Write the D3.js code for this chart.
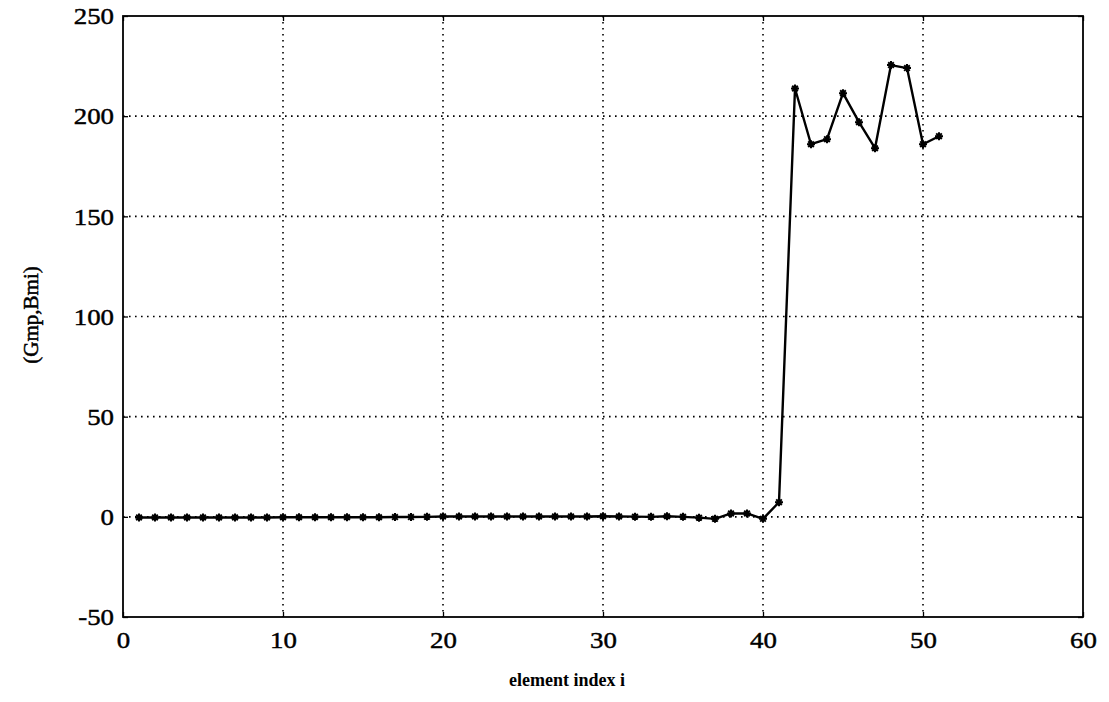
<!DOCTYPE html>
<html>
<head>
<meta charset="utf-8">
<script src="https://cdn.jsdelivr.net/npm/d3@7"></script>
<style>
  html, body { margin: 0; padding: 0; background: #fff; }
</style>
</head>
<body>
<svg id="chart" width="1109" height="702"></svg>
<script>
// element index i
const indices = d3.range(1, 52);
// (Gmp,Bmi) per element
const values = [
  -0.3, -0.3, -0.3, -0.3, -0.3, -0.3, -0.3, -0.3, -0.3, -0.2,
  -0.2, -0.2, -0.2, -0.2, -0.2, -0.2, -0.1, -0.1, 0.0, 0.2,
  0.2, 0.2, 0.2, 0.2, 0.2, 0.2, 0.2, 0.2, 0.2, 0.3,
  0.2, 0.1, 0.0, 0.3, 0.0, -0.4, -1.0, 1.7, 1.7, -1.0,
  7.3, 213.8, 186.0, 188.5, 211.5, 197.0, 184.0, 225.5, 224.0, 186.0,
  190.0
];
const xTicks = [0, 10, 20, 30, 40, 50, 60];
const yTicks = [-50, 0, 50, 100, 150, 200, 250];
const xLabel = "element index i";
const yLabel = "(Gmp,Bmi)";

const serif = "'Liberation Serif', 'DejaVu Serif', serif";
const svg = d3.select("#chart");
const plotL = 123, plotR = 1083, plotT = 16, plotB = 617;

const x = d3.scaleLinear().domain([0, 60]).range([plotL, plotR]);
const y = d3.scaleLinear().domain([-50, 250]).range([plotB, plotT]);

// dotted grid lines at interior ticks
const grid = svg.append("g")
  .attr("stroke", "#000")
  .attr("stroke-width", 1.6)
  .attr("stroke-dasharray", "1.6 4.4");
grid.selectAll("line.gx")
  .data(xTicks.filter(t => t > 0 && t < 60))
  .join("line")
  .attr("class", "gx")
  .attr("x1", d => x(d)).attr("x2", d => x(d))
  .attr("y1", plotT).attr("y2", plotB);
grid.selectAll("line.gy")
  .data(yTicks.filter(t => t > -50 && t < 250))
  .join("line")
  .attr("class", "gy")
  .attr("x1", plotL).attr("x2", plotR)
  .attr("y1", d => y(d)).attr("y2", d => y(d));

// axes with inward ticks, on all four sides
const tickLen = 5;
const fmt = d => String(d);
const axBottom = d3.axisBottom(x).tickValues(xTicks).tickFormat(fmt).tickSizeInner(-tickLen).tickSizeOuter(0).tickPadding(14);
const axLeft = d3.axisLeft(y).tickValues(yTicks).tickFormat(fmt).tickSizeInner(-tickLen).tickSizeOuter(0).tickPadding(8);
const axTop = d3.axisTop(x).tickValues(xTicks).tickSizeInner(-tickLen).tickSizeOuter(0).tickFormat("");
const axRight = d3.axisRight(y).tickValues(yTicks).tickSizeInner(-tickLen).tickSizeOuter(0).tickFormat("");

function styleAxis(g) {
  g.attr("font-family", null).attr("font-size", null);
  g.select(".domain").remove();
  g.selectAll(".tick line").attr("stroke", "#000").attr("stroke-width", 1.3);
  g.selectAll(".tick text")
    .style("font-family", serif)
    .style("font-size", "24px")
    .attr("transform", "scale(1.12,1)")
    .attr("fill", "#000")
    .attr("stroke", "#000").attr("stroke-width", 0.45);
}
svg.append("g").attr("transform", `translate(0,${plotB})`).call(axBottom).call(styleAxis);
svg.append("g").attr("transform", `translate(${plotL},0)`).call(axLeft).call(styleAxis);
svg.append("g").attr("transform", `translate(0,${plotT})`).call(axTop).call(styleAxis);
svg.append("g").attr("transform", `translate(${plotR},0)`).call(axRight).call(styleAxis);

// frame
svg.append("rect")
  .attr("x", plotL).attr("y", plotT)
  .attr("width", plotR - plotL).attr("height", plotB - plotT)
  .attr("fill", "none").attr("stroke", "#000").attr("stroke-width", 1.8);

// data line
const pts = indices.map((d, i) => [d, values[i]]);
svg.append("path")
  .datum(pts)
  .attr("fill", "none")
  .attr("stroke", "#000")
  .attr("stroke-width", 2.4)
  .attr("stroke-linejoin", "round")
  .attr("d", d3.line().x(d => x(d[0])).y(d => y(d[1])));

// asterisk markers
const m = 4;
const starPath = [
  `M${-m},0L${m},0`,
  `M0,${-m}L0,${m}`,
  `M${-m*0.7},${-m*0.7}L${m*0.7},${m*0.7}`,
  `M${-m*0.7},${m*0.7}L${m*0.7},${-m*0.7}`
].join("");
svg.append("g").selectAll("path")
  .data(pts)
  .join("path")
  .attr("transform", d => `translate(${x(d[0])},${y(d[1])})`)
  .attr("d", starPath)
  .attr("stroke", "#000")
  .attr("stroke-width", 2)
  .attr("fill", "none");
svg.append("g").selectAll("circle")
  .data(pts)
  .join("circle")
  .attr("cx", d => x(d[0])).attr("cy", d => y(d[1]))
  .attr("r", 2.4).attr("fill", "#000");

// axis titles
svg.append("text")
  .attr("x", 567).attr("y", 686)
  .attr("text-anchor", "middle")
  .style("font-family", serif)
  .style("font-size", "18px")
  .style("font-weight", "bold")
  .text(xLabel);
svg.append("text")
  .attr("transform", `translate(38,315) rotate(-90)`)
  .attr("text-anchor", "middle")
  .style("font-family", serif)
  .style("font-size", "21px")
  .attr("stroke", "#000").attr("stroke-width", 0.5)
  .text(yLabel);
</script>
</body>
</html>
